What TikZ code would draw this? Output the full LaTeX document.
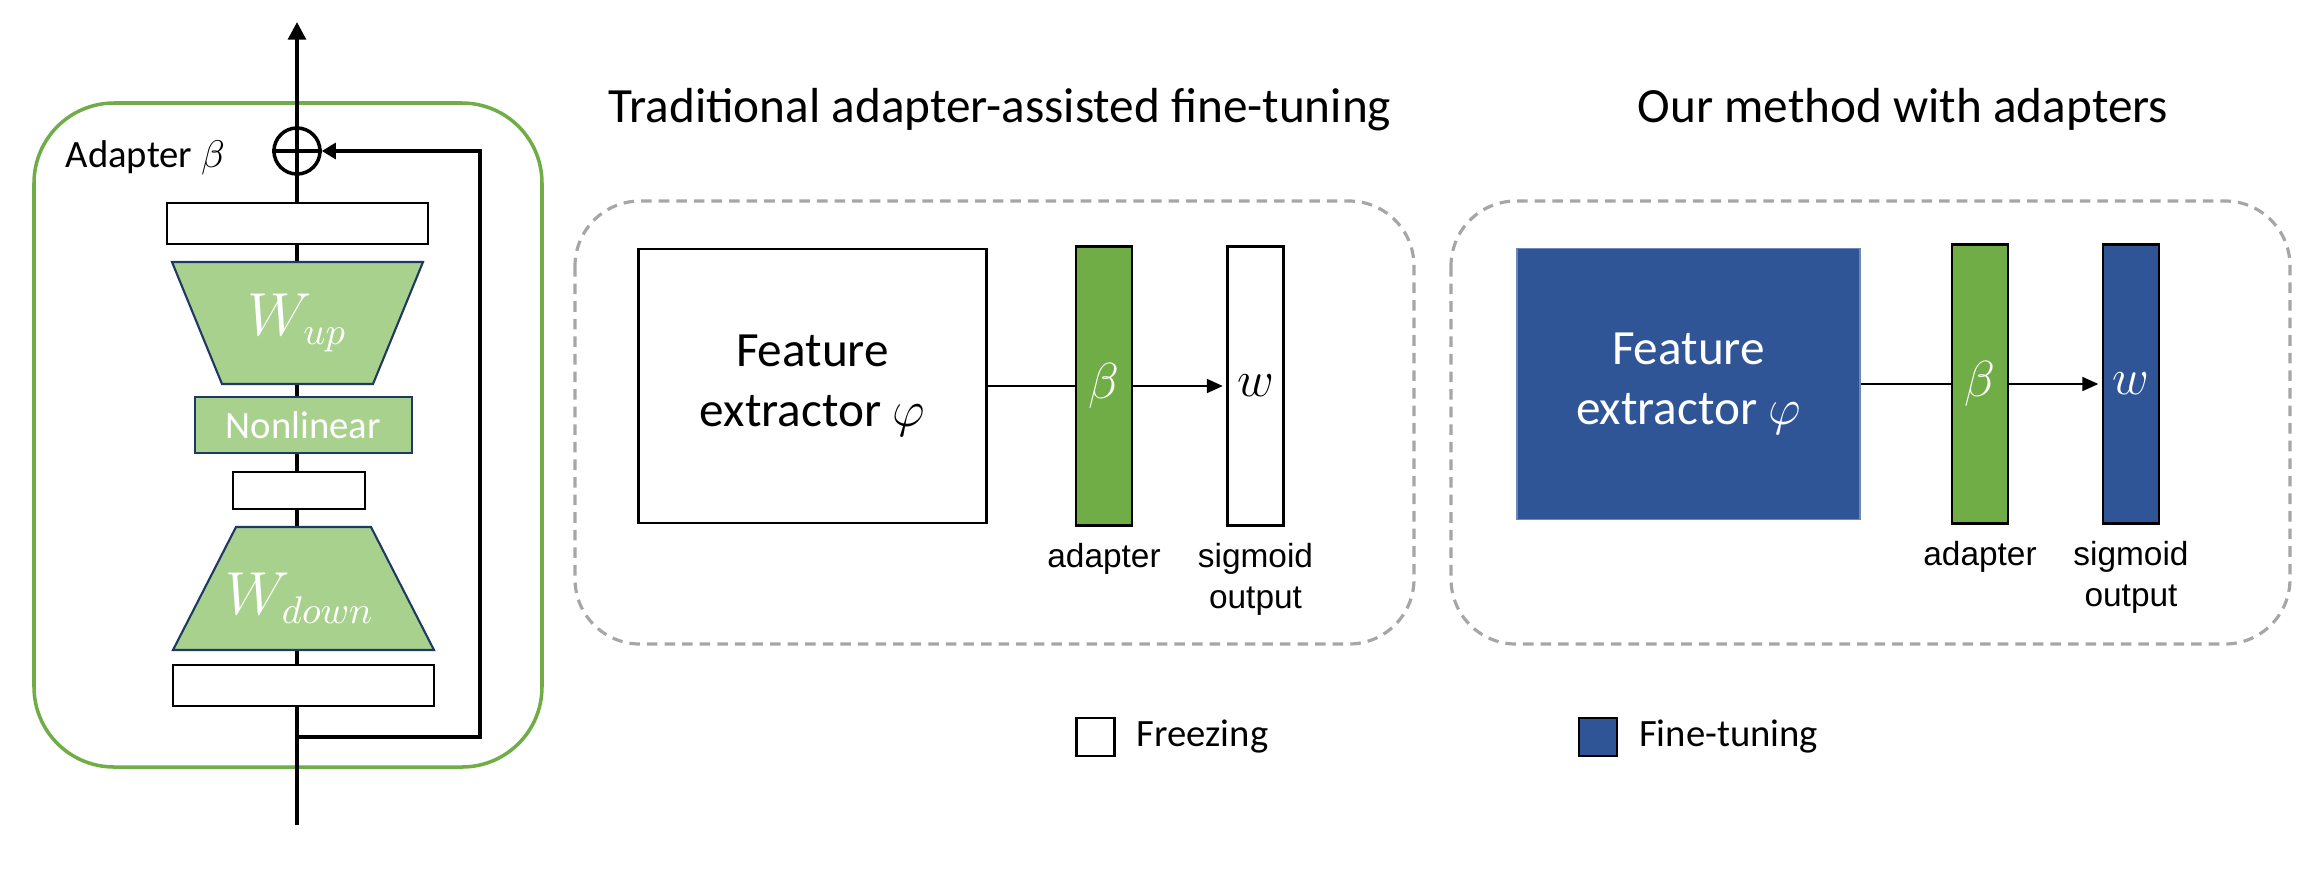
\documentclass[tikz,border=0pt]{standalone}
\usepackage{fontspec}
\setmainfont{Carlito}
\newfontfamily\arialfont{Liberation Sans}
\usetikzlibrary{arrows.meta,positioning}

\definecolor{adgreen}{HTML}{70AD47}
\definecolor{lightgreen}{HTML}{A9D18E}
\definecolor{tunblue}{HTML}{2F5597}
\definecolor{navyline}{HTML}{203864}
\definecolor{dashgray}{HTML}{A6A6A6}

\tikzset{
  whitebox/.style={draw=black, fill=white, line width=0.8pt, inner sep=0pt},
  greenbox/.style={draw=navyline, fill=lightgreen, line width=0.6pt},
  panelbox/.style={draw=dashgray, line width=0.9pt, dash pattern=on 3pt off 2pt, rounded corners=0.65cm},
  layerbox/.style={draw=black, line width=0.7pt, inner sep=0pt, minimum width=0.56cm, minimum height=2.79cm, font=\fontsize{13.5}{16}\selectfont},
  captext/.style={font=\arialfont\fontsize{9.5}{11.7}\selectfont, align=center, inner sep=0pt},
  paneltitle/.style={font=\fontsize{14}{17}\selectfont, inner sep=0pt, anchor=base},
  bigtext/.style={font=\fontsize{14}{17}\selectfont, align=center},
}

\begin{document}
\begin{tikzpicture}[x=0.01cm, y=-0.01cm]
\useasboundingbox (0,0) rectangle (2317,872);

% the adapter module
\draw [adgreen, line width=1pt, rounded corners=0.8cm] (34,103) rectangle (542,767);
\node [anchor=base west, inner sep=0pt, font=\fontsize{11}{13}\selectfont] (adlabel) at (65,167) {Adapter $\beta$};

% the main path
\coordinate (input) at (297,825);
\coordinate (output) at (297,22);
\coordinate (split) at (297,737);
\draw [line width=1.1pt, -{Triangle[length=5pt,width=5pt]}] (input) -- (output);

% the skip connection
\node [circle, draw, line width=1pt, minimum size=0.46cm, inner sep=0pt] (sum) at (297,151) {};
\draw [line width=1pt] (sum.west) -- (sum.east);
\draw [line width=1.1pt, -{Triangle[length=4pt,width=4.5pt]}] (split) -- ++(183,0) |- (sum.east);

% the layers
\node [whitebox, minimum width=2.61cm, minimum height=0.41cm] (normtop) at (297.5,223.5) {};
\draw [greenbox] (172,262) -- (423,262) -- (373,384) -- (222,384) -- cycle;
\node [text=white, font=\fontsize{16}{19}\selectfont] (wup) at (297,323) {$W_{up}$};
\node [greenbox, minimum width=2.17cm, minimum height=0.56cm, inner sep=0pt, text=white, font=\fontsize{11}{13}\selectfont] (nonlin) at (303.5,425) {Nonlinear};
\node [whitebox, minimum width=1.32cm, minimum height=0.37cm] (normmid) at (299,490.5) {};
\draw [greenbox] (236,527) -- (371,527) -- (434,650) -- (173,650) -- cycle;
\node [text=white, font=\fontsize{16}{19}\selectfont] (wdown) at (300,598) {$W_{down}$};
\node [whitebox, minimum width=2.61cm, minimum height=0.41cm] (normbot) at (303.5,685.5) {};

% traditional fine-tuning
\draw [panelbox] (575,201) rectangle (1414,644);
\node [paneltitle] (titleold) at (1000,122) {Traditional adapter-assisted fine-tuning};
\node [whitebox, bigtext, minimum width=3.47cm, minimum height=2.74cm] (featold) at (812.5,386) {Feature\\extractor $\varphi$};
\node [layerbox, fill=adgreen, text=white] (adold) at (1104,386) {$\beta$};
\node [layerbox, fill=white] (outold) at (1255.5,386) {$w$};
\draw [line width=0.4pt] (featold.east) -- (adold.west);
\draw [line width=0.4pt, -{Triangle[length=4.5pt,width=4pt]}, shorten >=1pt] (adold.east) -- (outold.west);
\node [captext, below=4.5pt of adold] (adcapold) {adapter};
\node [captext, below=4.5pt of outold] (outcapold) {sigmoid\\output};

% our method
\draw [panelbox] (1451,201) rectangle (2290,644);
\node [paneltitle] (titlenew) at (1903,122) {Our method with adapters};
\node [fill=tunblue, draw=tunblue!70, line width=0.4pt, text=white, bigtext, minimum width=3.43cm, minimum height=2.71cm] (featnew) at (1688.5,384) {Feature\\extractor $\varphi$};
\node [layerbox, fill=adgreen, text=white] (adnew) at (1980,384) {$\beta$};
\node [layerbox, fill=tunblue, text=white] (outnew) at (2131,384) {$w$};
\draw [line width=0.4pt] (featnew.east) -- (adnew.west);
\draw [line width=0.4pt, -{Triangle[length=4.5pt,width=4pt]}, shorten >=1pt] (adnew.east) -- (outnew.west);
\node [captext, below=4.5pt of adnew] (adcapnew) {adapter};
\node [captext, below=4.5pt of outnew] (outcapnew) {sigmoid\\output};

% the legend
\node [draw, line width=0.8pt, minimum size=0.38cm, inner sep=0pt] (freezekey) at (1095.5,737) {};
\node [right=0.2cm of freezekey, inner sep=0pt, font=\fontsize{11}{13}\selectfont] (freezetext) {Freezing};
\node [draw, fill=tunblue, line width=0.8pt, minimum size=0.38cm, inner sep=0pt] (tunekey) at (1598,737) {};
\node [right=0.2cm of tunekey, inner sep=0pt, font=\fontsize{11}{13}\selectfont] (tunetext) {Fine-tuning};

\end{tikzpicture}
\end{document}
